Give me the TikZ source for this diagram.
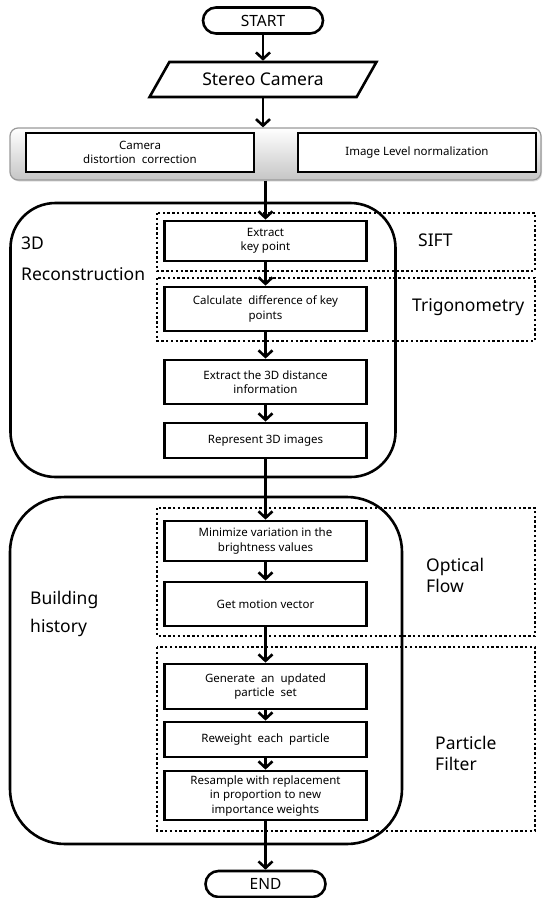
\documentclass[tikz,border=0pt]{standalone}
\usepackage{fontspec}
\setmainfont{Noto Sans}
\usetikzlibrary{shapes.geometric,arrows.meta,shadows}
\begin{document}
\begin{tikzpicture}[x=1pt,y=-1pt,
  proc/.style={draw,fill=white,line width=2.8pt,minimum width=202pt,inner sep=0pt,align=center,font=\fontsize{11.5}{14.5}\selectfont},
  term/.style={draw,fill=white,line width=2.6pt,rounded corners=13pt,minimum width=120pt,minimum height=26pt,inner sep=0pt,font=\fontsize{15.5}{18}\selectfont},
  grp/.style={draw,line width=2.6pt},
  dotbox/.style={draw,line width=2.6pt,dash pattern=on 2.4pt off 2.4pt},
  lab/.style={anchor=west,align=left,inner sep=0pt},
  flow/.style={line width=2.8pt,-{Straight Barb[length=6.5pt,width=14pt,line width=2.6pt]}},
  inbox/.style={draw,fill=white,line width=2.8pt,inner sep=0pt,minimum height=39pt,align=center,font=\fontsize{11.5}{14.5}\selectfont}
]
\useasboundingbox (0,0) rectangle (549,898);

% containers
\draw[grp,rounded corners=45pt] (10.5,203) rectangle (395.5,477);
\draw[grp,rounded corners=55pt] (10,497) rectangle (402,844);

% dotted groups
\draw[dotbox] (157,213) rectangle (535,271);
\draw[dotbox] (157,278) rectangle (535,341);
\draw[dotbox] (157,508) rectangle (535,636);
\draw[dotbox] (157,647) rectangle (535,831);

% labels
\node[lab,font=\fontsize{17.5}{31}\selectfont] (l3d) at (21,258.5) {3D\\Reconstruction};
\node[lab,font=\fontsize{17.5}{28}\selectfont] (lbh) at (30,614) {Building\\history};
\node[lab,font=\fontsize{17.5}{20}\selectfont] (lsift) at (418,240) {SIFT};
\node[lab,font=\fontsize{17.5}{20}\selectfont] (ltrig) at (412,307) {Trigonometry};
\node[lab,font=\fontsize{17.5}{21}\selectfont] (lopt) at (426,575) {Optical\\Flow};
\node[lab,font=\fontsize{17.5}{21}\selectfont] (lpf) at (435,753) {Particle\\Filter};

% top part
\node[term] (start) at (263,20.5) {START};
\node[trapezium,draw,fill=white,line width=2.6pt,trapezium left angle=45,trapezium right angle=135,
      trapezium stretches=true,minimum width=227pt,minimum height=35pt,inner sep=0pt,
      font=\fontsize{17.5}{20}\selectfont] (cam) at (263,79.5) {Stereo Camera};
\node[draw=gray!80,rounded corners=8pt,top color=white,bottom color=gray!45,line width=1.2pt,
      minimum width=531pt,minimum height=52pt,inner sep=0pt,
      drop shadow={opacity=0.25,shadow xshift=1pt,shadow yshift=-1.5pt}] (bar) at (275.5,154) {};
\node[inbox,minimum width=228pt] (dist) at (140,152.5) {Camera\\distortion\ \ correction};
\node[inbox,minimum width=238pt] (norm) at (417,152.5) {Image Level normalization};

% process boxes
\node[proc,minimum height=40pt] (ekp) at (265.5,241) {Extract\\key point};
\node[proc,minimum height=44pt] (calc) at (265.5,309) {Calculate\ \ difference of key\\points};
\node[proc,minimum height=44pt] (e3d) at (265.5,382) {Extract\ the\ 3D\ distance\\information};
\node[proc,minimum height=35pt] (rep) at (265.5,440.5) {Represent\ 3D\ images};
\node[proc,minimum height=40pt] (mini) at (265.5,541) {Minimize\ variation\ in the\\brightness values};
\node[proc,minimum height=44pt] (gmv) at (265.5,604) {Get\ motion\ vector};
\node[proc,minimum height=45pt] (gen) at (265.5,686.5) {Generate\ \ an\ \ updated\\particle\ \ set};
\node[proc,minimum height=35pt] (rew) at (265.5,739.5) {Reweight\ \ each\ \ particle};
\node[proc,minimum height=49pt] (res) at (265.5,795.5) {Resample with replacement\\in proportion to new\\importance\ weights};
\node[term] (end) at (265.5,884) {END};

% connectors
\draw[flow] (start.south) -- (start.south |- cam.north);
\draw[flow] (cam.south -| start.south) -- (start.south |- bar.north);
\draw[flow] (bar.south -| ekp.north) -- (ekp.north);
\draw[flow] (ekp) -- (calc);
\draw[flow] (calc) -- (e3d);
\draw[flow] (e3d) -- (rep);
\draw[flow] (rep) -- (mini);
\draw[flow] (mini) -- (gmv);
\draw[flow] (gmv) -- (gen);
\draw[flow] (gen) -- (rew);
\draw[flow] (rew) -- (res);
\draw[flow] (res) -- (end);
\end{tikzpicture}
\end{document}
